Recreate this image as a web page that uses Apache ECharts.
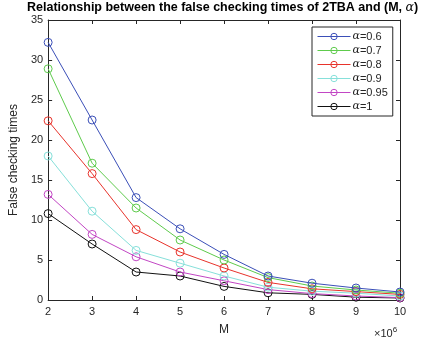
<!DOCTYPE html>
<html>
<head>
<meta charset="utf-8">
<script src="https://cdn.jsdelivr.net/npm/echarts@6/dist/echarts.min.js"></script>
<style>
  html, body { margin: 0; padding: 0; background: #fff; }
  #chart { width: 422px; height: 341px; }
</style>
</head>
<body>
<div id="chart"></div>
<script>
// M values (in units of 10^6)
const mValues = [2, 3, 4, 5, 6, 7, 8, 9, 10];
const yTicks = [0, 5, 10, 15, 20, 25, 30, 35];

// False checking times for each alpha
const alphaLabels = ['0.6', '0.7', '0.8', '0.9', '0.95', '1'];
const alpha06 = [32.2, 22.5, 12.8, 8.9, 5.7, 3.0, 2.1, 1.5, 1.0];
const alpha07 = [28.9, 17.1, 11.5, 7.5, 5.0, 2.8, 1.75, 1.25, 0.85];
const alpha08 = [22.4, 15.8, 8.8, 6.0, 4.0, 2.2, 1.4, 1.05, 0.7];
const alpha09 = [18.0, 11.1, 6.2, 4.6, 3.0, 1.6, 1.1, 0.85, 0.5];
const alpha095 = [13.2, 8.2, 5.4, 3.5, 2.4, 1.3, 0.8, 0.5, 0.3];
const alpha1 = [10.8, 7.0, 3.5, 3.0, 1.7, 0.9, 0.7, 0.35, 0.25];

const seriesValues = [alpha06, alpha07, alpha08, alpha09, alpha095, alpha1];
const colors = ['#3b4fb8', '#5ecb4c', '#e8332b', '#86e0da', '#c246c4', '#111111'];

const axisColor = '#262626';
const font = 'Liberation Sans, Arial, sans-serif';

const chart = echarts.init(document.getElementById('chart'), null, { renderer: 'canvas' });

const series = seriesValues.map((vals, i) => ({
  name: '{a|α}=' + alphaLabels[i],
  type: 'line',
  xAxisIndex: 0,
  yAxisIndex: 0,
  data: mValues.map((m, j) => [m, vals[j]]),
  symbol: 'circle',
  symbolSize: 8,
  showAllSymbol: true,
  color: colors[i],
  lineStyle: { width: 1, color: colors[i] },
  itemStyle: { color: 'rgba(0,0,0,0)', borderColor: colors[i], borderWidth: 1 },
  emphasis: { disabled: true },
  animation: false,
  z: 10 - i
}));

const commonAxis = {
  axisLine: { show: true, onZero: false, lineStyle: { color: axisColor, width: 1 } },
  axisTick: { show: true, inside: true, length: 4, lineStyle: { color: axisColor } },
  splitLine: { show: false }
};

chart.setOption({
  animation: false,
  backgroundColor: '#fff',
  title: {
    text: 'Relationship between the false checking times of 2TBA and (M, {a|α})',
    left: 27,
    top: 1,
    padding: 0,
    textStyle: {
      fontFamily: font,
      fontWeight: 'bold',
      fontSize: 12.5,
      color: '#000',
      rich: {
        a: { fontFamily: 'DejaVu Serif, serif', fontStyle: 'italic', fontWeight: 'normal', fontSize: 12.5, color: '#000' }
      }
    }
  },
  grid: { left: 43, right: 22, top: 20, bottom: 41, containLabel: false },
  xAxis: [
    Object.assign({}, commonAxis, {
      type: 'value',
      position: 'bottom',
      min: 2, max: 10, interval: 1,
      name: 'M',
      nameLocation: 'middle',
      nameGap: 24,
      nameTextStyle: { fontFamily: font, fontSize: 12, color: axisColor },
      axisLabel: { fontFamily: font, fontSize: 11, color: axisColor, margin: 6 }
    }),
    Object.assign({}, commonAxis, {
      type: 'value',
      position: 'top',
      min: 2, max: 10, interval: 1,
      axisLabel: { show: false }
    })
  ],
  yAxis: [
    Object.assign({}, commonAxis, {
      type: 'value',
      position: 'left',
      min: yTicks[0], max: yTicks[yTicks.length - 1], interval: 5,
      name: 'False checking times',
      nameLocation: 'middle',
      nameGap: 21,
      nameTextStyle: { fontFamily: font, fontSize: 12, color: axisColor },
      axisLabel: { fontFamily: font, fontSize: 11, color: axisColor, margin: 5 }
    }),
    Object.assign({}, commonAxis, {
      type: 'value',
      position: 'right',
      min: yTicks[0], max: yTicks[yTicks.length - 1], interval: 5,
      axisLabel: { show: false }
    })
  ],
  legend: {
    orient: 'vertical',
    left: 312,
    top: 27,
    itemWidth: 33,
    itemHeight: 8,
    itemGap: 3,
    padding: [4, 5, 4, 5],
    borderColor: '#262626',
    borderWidth: 1,
    backgroundColor: '#fff',
    itemStyle: { borderWidth: 1, color: 'rgba(0,0,0,0)' },
    lineStyle: { width: 1 },
    textStyle: {
      fontFamily: font,
      fontSize: 11,
      color: axisColor,
      padding: [0, 0, 0, -3],
      rich: {
        a: { fontFamily: 'DejaVu Serif, serif', fontStyle: 'italic', fontSize: 11, color: axisColor }
      }
    },
    data: series.map(s => s.name)
  },
  graphic: [
    {
      type: 'text',
      left: 374,
      top: 326,
      style: {
        text: '×10{s|6}',
        font: '11px ' + font,
        fill: axisColor,
        rich: { s: { fontSize: 8, verticalAlign: 'top', padding: [0, 0, 8, 0], fill: axisColor } }
      }
    }
  ],
  series: series
});
</script>
</body>
</html>
